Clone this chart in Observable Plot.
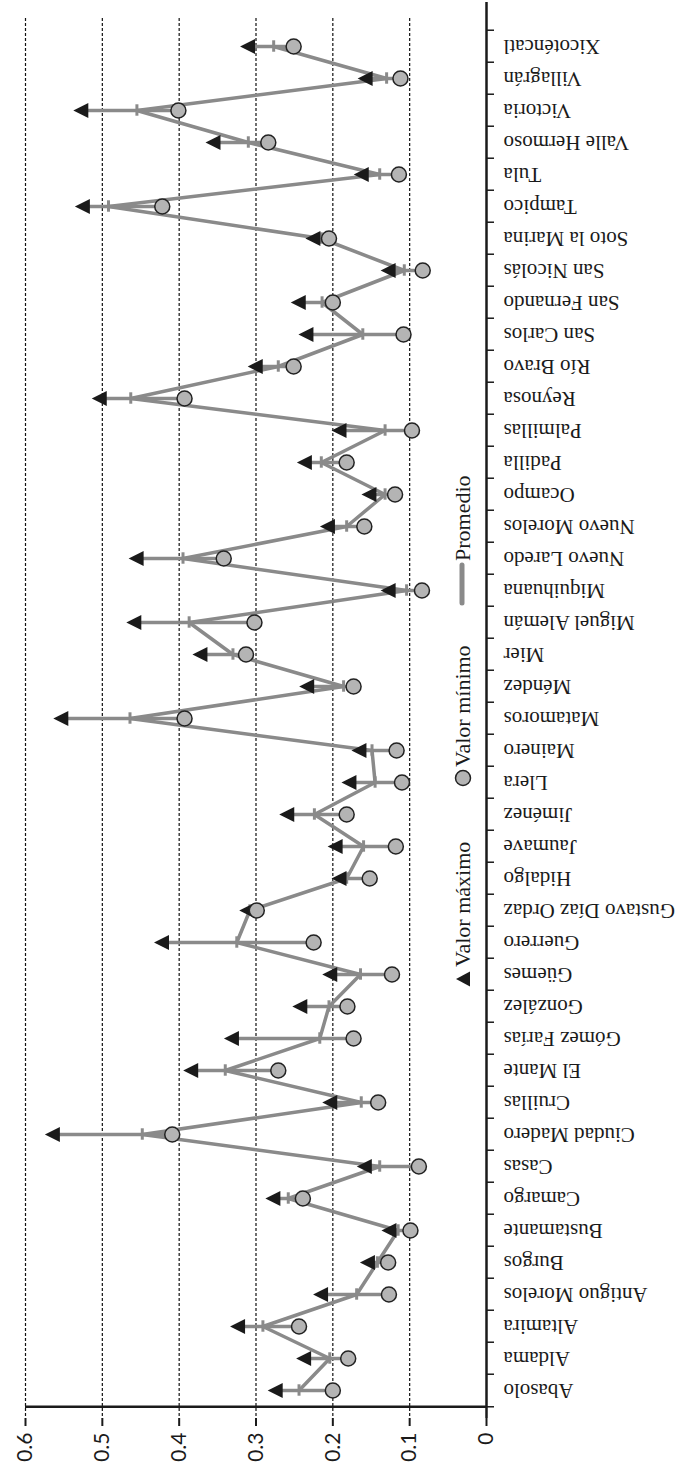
<!DOCTYPE html>
<html>
<head>
<meta charset="utf-8">
<script src="https://cdn.jsdelivr.net/npm/d3@7"></script>
<script src="https://cdn.jsdelivr.net/npm/@observablehq/plot@0.6"></script>
<style>
  body { margin: 0; background: #fff; }
  #chart svg { display: block; }
</style>
</head>
<body>
<div id="chart"></div>
<script>
const municipios = ["Abasolo","Aldama","Altamira","Antiguo Morelos","Burgos","Bustamante","Camargo","Casas","Ciudad Madero","Cruillas","El Mante","Gómez Farías","González","Güemes","Guerrero","Gustavo Díaz Ordaz","Hidalgo","Jaumave","Jiménez","Llera","Mainero","Matamoros","Méndez","Mier","Miguel Alemán","Miquihuana","Nuevo Laredo","Nuevo Morelos","Ocampo","Padilla","Palmillas","Reynosa","Río Bravo","San Carlos","San Fernando","San Nicolás","Soto la Marina","Tampico","Tula","Valle Hermoso","Victoria","Villagrán","Xicoténcatl"];
const maximos  = [0.275,0.238,0.324,0.216,0.155,0.127,0.278,0.159,0.565,0.204,0.385,0.332,0.243,0.204,0.423,0.312,0.192,0.197,0.260,0.179,0.166,0.554,0.234,0.373,0.459,0.128,0.456,0.207,0.153,0.237,0.192,0.504,0.301,0.235,0.245,0.128,0.226,0.526,0.163,0.356,0.528,0.158,0.311];
const promedios= [0.244,0.204,0.291,0.169,0.142,0.115,0.258,0.139,0.448,0.163,0.340,0.217,0.205,0.164,0.325,0.308,0.182,0.160,0.224,0.145,0.149,0.464,0.186,0.330,0.387,0.104,0.395,0.182,0.132,0.215,0.132,0.463,0.271,0.161,0.214,0.107,0.215,0.492,0.139,0.310,0.455,0.130,0.277];
const minimos  = [0.200,0.180,0.244,0.127,0.128,0.099,0.239,0.088,0.409,0.141,0.271,0.173,0.181,0.123,0.225,0.299,0.152,0.118,0.182,0.110,0.117,0.393,0.173,0.313,0.302,0.084,0.342,0.159,0.119,0.182,0.097,0.393,0.251,0.108,0.200,0.083,0.205,0.422,0.114,0.284,0.401,0.112,0.251];
const xTicks = [0, 0.1, 0.2, 0.3, 0.4, 0.5, 0.6];
const xTickLabels = ["0", "0.1", "0.2", "0.3", "0.4", "0.5", "0.6"];
const legendLabels = ["Valor máximo", "Valor mínimo", "Promedio"];

const data = municipios.map((m, i) => ({municipio: m, max: maximos[i], mean: promedios[i], min: minimos[i]}));

const W = 687, H = 1469, mT = 18, mB = 51, mL = 25, mR = 201;
const step = (H - mT - mB) / municipios.length;
const grey = "#8a8a8a";
const serif = "'Liberation Serif', 'Times New Roman', serif";

const triLeft = {
  draw(ctx, size) {
    const r = Math.sqrt(size / Math.PI);
    ctx.moveTo(-r, 0);
    ctx.lineTo(r, -r);
    ctx.lineTo(r, r);
    ctx.closePath();
  }
};

const svg = Plot.plot({
  width: W, height: H,
  marginTop: mT, marginBottom: mB, marginLeft: mL, marginRight: mR,
  style: {fontFamily: serif, fontSize: "21px", color: "#1a1a1a", background: "#fff", overflow: "visible"},
  x: {domain: [0, 0.6], reverse: true},
  y: {type: "band", domain: municipios.slice().reverse(), padding: 0},
  marks: [
    Plot.gridX(xTicks.filter(t => t > 0), {stroke: "#111", strokeOpacity: 1, strokeWidth: 1.2, strokeDasharray: "3,2"}),
    Plot.line(data, {x: "mean", y: "municipio", stroke: grey, strokeWidth: 3.5}),
    Plot.ruleY(data, {y: "municipio", x1: "min", x2: "max", stroke: grey, strokeWidth: 3.5}),
    Plot.tickX(data, {x: "mean", y: "municipio", stroke: grey, strokeWidth: 3, insetTop: (step - 12) / 2, insetBottom: (step - 12) / 2}),
    Plot.dot(data, {x: "max", y: "municipio", symbol: triLeft, r: 7.5, fill: "#1a1a1a", stroke: "none"}),
    Plot.dot(data, {x: "min", y: "municipio", r: 7.5, fill: "#b4b4b4", stroke: "#222", strokeWidth: 1.5}),
    Plot.ruleX([0], {stroke: "#1a1a1a", strokeWidth: 2.5, insetTop: -16}),
    Plot.ruleY([municipios[0]], {dy: step / 2, stroke: "#1a1a1a", strokeWidth: 2.5}),
    Plot.axisX(xTicks, {anchor: "bottom", tickSize: 8, tickPadding: 6, tickRotate: -90, strokeWidth: 2,
      tickFormat: (d, i) => xTickLabels[i], fontFamily: "Lato, 'Open Sans', sans-serif", fontSize: 21, label: null}),
    Plot.axisY({anchor: "right", tickSize: 7, strokeWidth: 1.5, dy: -step / 2, tickFormat: () => "", label: null}),
    Plot.axisY([municipios[0]], {anchor: "right", tickSize: 7, strokeWidth: 1.5, dy: step / 2, tickFormat: () => "", label: null}),
    Plot.axisY({anchor: "right", tickSize: 0, tickPadding: 17, tickRotate: 180, textAnchor: "end", lineAnchor: "middle",
      fontFamily: serif, fontSize: 21, label: null})
  ]
});

// Legend (rotated, inside the plot as in the reference)
const lg = d3.select(svg).append("g")
  .attr("font-family", serif).attr("font-size", 22).attr("fill", "#1a1a1a").attr("text-anchor", "start");
const lx = 463;
const items = [
  {label: legendLabels[0], sym: "tri", sy: 979, ty: 967},
  {label: legendLabels[1], sym: "dot", sy: 778, ty: 767},
  {label: legendLabels[2], sym: "line", sy: 584, ty: 561}
];
for (const it of items) {
  if (it.sym === "tri") {
    lg.append("path").attr("d", `M${lx - 7},${it.sy} L${lx + 7},${it.sy - 7.5} L${lx + 7},${it.sy + 7.5} Z`).attr("fill", "#1a1a1a");
  } else if (it.sym === "dot") {
    lg.append("circle").attr("cx", lx).attr("cy", it.sy).attr("r", 7.5).attr("fill", "#b4b4b4").attr("stroke", "#222").attr("stroke-width", 1.5);
  } else {
    lg.append("line").attr("x1", lx - 1).attr("x2", lx - 1).attr("y1", it.sy + 19).attr("y2", it.sy - 19)
      .attr("stroke", grey).attr("stroke-width", 5).attr("stroke-linecap", "round");
  }
  lg.append("text").attr("transform", `translate(${lx},${it.ty}) rotate(-90)`)
    .attr("text-anchor", "start").attr("dy", "0.34em").text(it.label);
}

document.getElementById("chart").appendChild(svg);
</script>
</body>
</html>
